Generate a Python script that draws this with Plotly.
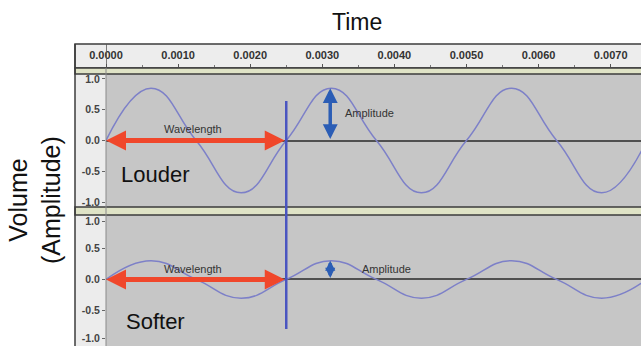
import plotly.graph_objects as go

W, H = 641, 346

# ---- data ----
# key points (zero crossings, peaks, troughs) of the two tones, seconds
key_times = [0.0, 0.000625, 0.00125, 0.001875, 0.0025, 0.003125, 0.00375,
             0.004375, 0.005, 0.005625, 0.00625, 0.006875, 0.0075]
louder_vals = [0.0, 0.85, 0.0, -0.85, 0.0, 0.85, 0.0, -0.85, 0.0, 0.85, 0.0, -0.85, 0.0]
softer_vals = [0.0, 0.30, 0.0, -0.30, 0.0, 0.30, 0.0, -0.30, 0.0, 0.30, 0.0, -0.30, 0.0]
ruler_ticks = [0.0, 0.001, 0.002, 0.003, 0.004, 0.005, 0.006, 0.007]
ruler_labels = ["0.0000", "0.0010", "0.0020", "0.0030", "0.0040", "0.0050", "0.0060", "0.0070"]
amp_labels = ["-1.0", "-0.5", "0.0", "0.5", "1.0"]
# label positions (Audacity nudges the end labels inside the track)
top_amp_ticks = [-1.0, -0.5, 0.0, 0.5, 1.0]
bottom_amp_ticks = [-0.94, -0.5, 0.0, 0.5, 0.93]
wavelength = 0.0025
louder_amp = 0.85
softer_amp = 0.30
amp_marker_time = 0.00311


def px(x):
    return x / W


def py(y):
    return 1 - y / H


WAVE = "#7d80c8"
BG = "#c6c6c6"
LBL = "#ececec"
DARK = "#3c3c3c"
RED = "#f0472b"
BLUE = "#2b5db5"
FONT = "Liberation Sans, Arial"

fig = go.Figure()
fig.add_trace(go.Scatter(x=key_times, y=louder_vals, mode="lines",
                         line=dict(color=WAVE, width=1.5, shape="spline", smoothing=1.3),
                         xaxis="x", yaxis="y", hoverinfo="skip", showlegend=False))
fig.add_trace(go.Scatter(x=key_times, y=softer_vals, mode="lines",
                         line=dict(color=WAVE, width=1.5, shape="spline", smoothing=1.3),
                         xaxis="x", yaxis="y2", hoverinfo="skip", showlegend=False))
# dummy trace so the ruler axis is drawn
fig.add_trace(go.Scatter(x=ruler_ticks, y=[None] * len(ruler_ticks), mode="lines",
                         xaxis="x2", yaxis="y", hoverinfo="skip", showlegend=False))

xr = [0, (W - 106) / 72100]

shapes = []
# label column background
shapes.append(dict(type="rect", xref="paper", yref="paper", x0=px(75), x1=px(106),
                   y0=0, y1=py(68), fillcolor=LBL, line=dict(width=0), layer="below"))
# ruler
shapes.append(dict(type="rect", xref="paper", yref="paper", x0=px(75), x1=px(W + 2),
                   y0=py(68), y1=py(44), fillcolor="#ededed",
                   line=dict(color=DARK, width=1.5), layer="below"))
# double separator lines
for y0, y1 in [(68, 74), (207, 215)]:
    shapes.append(dict(type="rect", xref="paper", yref="paper", x0=px(75), x1=px(W + 2),
                       y0=py(y1), y1=py(y0), fillcolor="#dfe3c6",
                       line=dict(color=DARK, width=1.5), layer="above"))
# left border
shapes.append(dict(type="line", xref="paper", yref="paper", x0=px(75), x1=px(75),
                   y0=0, y1=py(44), line=dict(color=DARK, width=1.5)))
# column divider
shapes.append(dict(type="line", xref="paper", yref="paper", x0=px(106), x1=px(106),
                   y0=0, y1=py(68), line=dict(color="#8a8a8a", width=1)))
# cursor in ruler
shapes.append(dict(type="line", xref="x", yref="paper", x0=0, x1=0,
                   y0=py(68), y1=py(44), line=dict(color="#555555", width=1.5)))
# vertical blue line at one wavelength
shapes.append(dict(type="line", xref="x", yref="paper", x0=wavelength, x1=wavelength,
                   y0=py(329), y1=py(101), line=dict(color="#4a55c0", width=2.5)))

annotations = []
annotations.append(dict(text="Time", xref="paper", yref="paper", x=px(357), y=py(22),
                        xanchor="center", yanchor="middle",
                        showarrow=False, font=dict(size=23, color="#111", family=FONT)))
annotations.append(dict(text="Volume<br>(Amplitude)", xref="paper", yref="paper",
                        x=px(34), y=py(200), textangle=-90, showarrow=False,
                        xanchor="center", yanchor="middle",
                        font=dict(size=25, color="#111", family=FONT)))
for yax, amp, lab, ly, wy, ay_t, ax_t, asz in [
        ("y", louder_amp, "Louder", -0.55, 0.18, 0.45, 0.00365, 0.85),
        ("y2", softer_amp, "Softer", -0.68, 0.16, 0.16, 0.00389, 0.58)]:
    # red wavelength arrow
    annotations.append(dict(x=0, y=0, ax=wavelength, ay=0, xref="x", yref=yax,
                            axref="x", ayref=yax, showarrow=True, arrowhead=2,
                            arrowside="end+start", arrowsize=0.8, arrowwidth=5,
                            arrowcolor=RED, text=""))
    annotations.append(dict(x=0.00121, y=wy, xref="x", yref=yax, text="Wavelength",
                            xanchor="center", yanchor="middle",
                            showarrow=False, font=dict(size=11, color="#333", family=FONT)))
    # blue amplitude arrow
    annotations.append(dict(x=amp_marker_time, y=amp, ax=amp_marker_time, ay=0,
                            xref="x", yref=yax, axref="x", ayref=yax, showarrow=True,
                            arrowhead=2, arrowside="end+start", arrowsize=asz,
                            arrowwidth=3.5, arrowcolor=BLUE, text=""))
    annotations.append(dict(x=ax_t, y=ay_t, xref="x", yref=yax, text="Amplitude",
                            xanchor="center", yanchor="middle",
                            showarrow=False, font=dict(size=11, color="#333", family=FONT)))
    annotations.append(dict(x=0.00068, y=ly, xref="x", yref=yax, text=lab,
                            xanchor="center", yanchor="middle",
                            showarrow=False, font=dict(size=22, color="#111", family=FONT)))

yaxis_common = dict(anchor="x", showgrid=False, zeroline=True, zerolinecolor="#505050",
                    zerolinewidth=1.5, showline=False, ticks="outside", ticklen=3,
                    tickcolor="#666", ticktext=amp_labels,
                    automargin=False,
                    tickfont=dict(size=10.5, color="#444", family=FONT, weight="bold"),
                    fixedrange=True)

fig.update_layout(
    width=W, height=H,
    margin=dict(l=0, r=0, t=0, b=0, pad=0, autoexpand=False),
    paper_bgcolor="white",
    plot_bgcolor=BG,
    showlegend=False,
    xaxis=dict(domain=[px(106), 1], range=xr, anchor="y2", visible=False,
               showgrid=False, zeroline=False, automargin=False),
    xaxis2=dict(overlaying="x", anchor="free", position=py(67), side="top",
                range=xr, showgrid=False, zeroline=False, showline=False,
                automargin=False,
                ticks="outside", ticklen=3, tickcolor="#555",
                tickvals=ruler_ticks, ticktext=ruler_labels, ticklabelstandoff=1,
                minor=dict(ticks="outside", ticklen=2, dtick=0.0005, tickcolor="#777"),
                tickfont=dict(size=11, color="#333", family=FONT, weight="bold")),
    yaxis=dict(domain=[py(207), py(74)], range=[-1.08, 1.08], tickvals=top_amp_ticks,
               **yaxis_common),
    yaxis2=dict(domain=[0, py(215)], range=[-1.065, 1.03], tickvals=bottom_amp_ticks,
                **yaxis_common),
    shapes=shapes,
    annotations=annotations,
)

fig.write_html("out.html", config={"displayModeBar": False},
               post_script="document.body.style.margin='0';")
